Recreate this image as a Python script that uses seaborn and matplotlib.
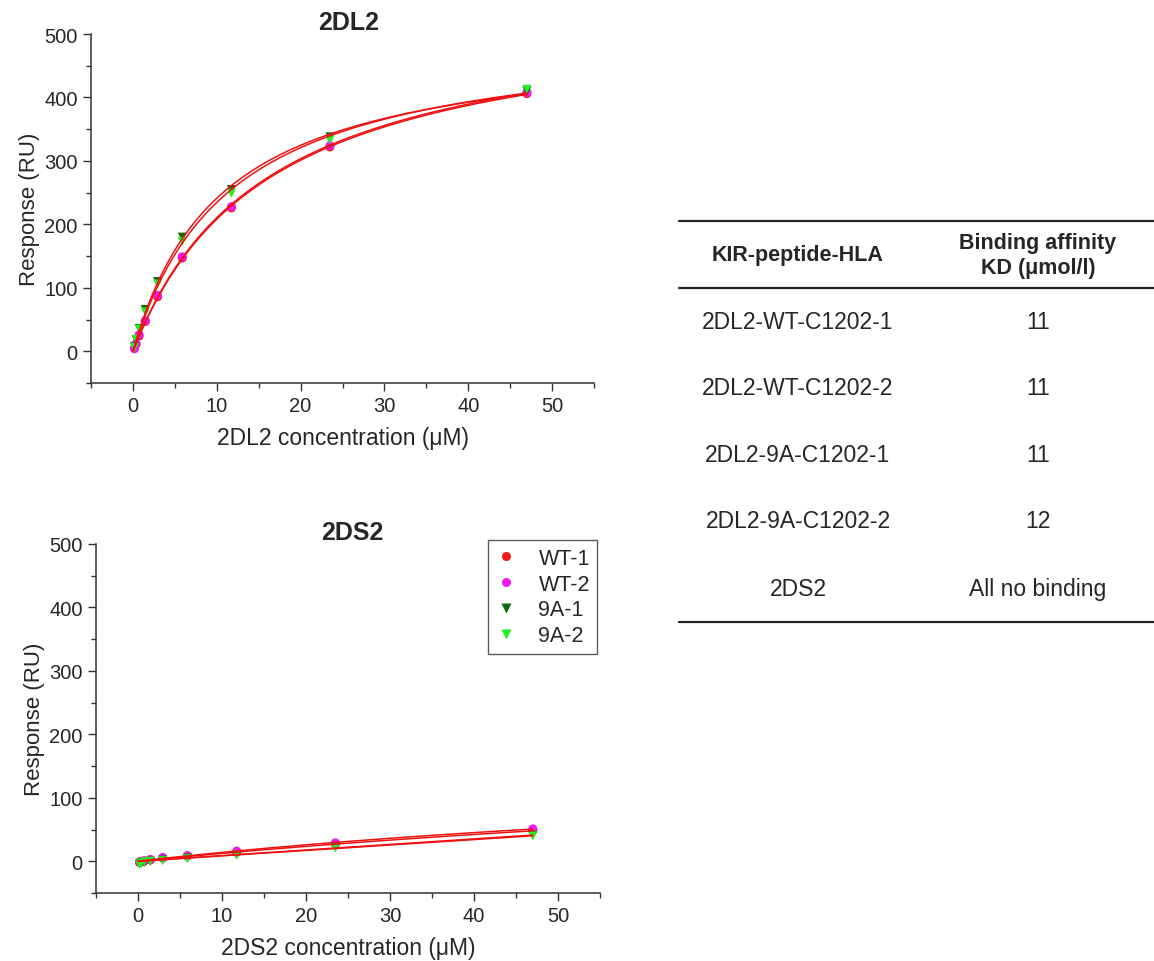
import numpy as np
import pandas as pd
import matplotlib
matplotlib.use("Agg")
import matplotlib.pyplot as plt
from matplotlib.ticker import MultipleLocator
import seaborn as sns

# Analyte concentrations (uM), two-fold dilution series
conc = [0.18, 0.37, 0.73, 1.47, 2.94, 5.88, 11.75, 23.5, 47.0]

# 2DL2 responses (RU)
dl2_wt1 = [5, 11, 24, 47, 86, 147, 226, 322, 406]
dl2_wt2 = [4, 12, 26, 48, 88, 149, 228, 324, 408]
dl2_9a1 = [7, 18, 36, 66, 110, 180, 255, 338, 410]
dl2_9a2 = [6, 19, 35, 62, 106, 173, 249, 333, 413]

# 2DS2 responses (RU)
ds2_wt1 = [-2, -1, 0, 2, 5, 8, 14, 27, 48]
ds2_wt2 = [-1, 0, 1, 3, 6, 9, 16, 29, 51]
ds2_9a1 = [-4, -3, -2, 0, 2, 5, 10, 22, 41]
ds2_9a2 = [-5, -3, -1, 0, 1, 4, 10, 21, 40]

series_names = ["WT-1", "WT-2", "9A-1", "9A-2"]
series_colors = ["#f01818", "#f018f0", "#0a6a0a", "#20f020"]
series_markers = ["o", "o", "v", "v"]

# Summary table
table_header = ["KIR-peptide-HLA", "Binding affinity\nKD (\u03bcmol/l)"]
table_complex = ["2DL2-WT-C1202-1", "2DL2-WT-C1202-2", "2DL2-9A-C1202-1",
                 "2DL2-9A-C1202-2", "2DS2"]
table_kd = ["11", "11", "11", "12", "All no binding"]

sns.set_style("ticks")
plt.rcParams["font.family"] = ["Liberation Sans", "DejaVu Sans"]


def langmuir_fit(x, y):
    """1:1 steady-state binding fit R = Rmax*C/(KD+C)."""
    x = np.asarray(x, float)
    y = np.asarray(y, float)
    best = None
    for kd in np.logspace(-1, 4, 3000):
        f = x / (kd + x)
        rmax = f.dot(y) / f.dot(f)
        sse = ((y - rmax * f) ** 2).sum()
        if best is None or sse < best[0]:
            best = (sse, kd, rmax)
    return best[1], best[2]


def panel(ax, data, title, xlabel, title_x, show_legend):
    frames = []
    for name, vals in zip(series_names, data):
        frames.append(pd.DataFrame({"conc": conc, "resp": vals, "series": name}))
    df = pd.concat(frames, ignore_index=True)

    # fitted binding curves
    xs = np.linspace(0, max(conc), 300)
    for name, vals in zip(series_names, data):
        kd, rmax = langmuir_fit(conc, vals)
        fit_df = pd.DataFrame({"conc": xs, "resp": rmax * xs / (kd + xs)})
        sns.lineplot(data=fit_df, x="conc", y="resp", ax=ax, color="#ee1111",
                     lw=1.1, zorder=3, legend=False)

    sns.scatterplot(data=df, x="conc", y="resp", hue="series", style="series",
                    hue_order=series_names, style_order=series_names,
                    palette=dict(zip(series_names, series_colors)),
                    markers=dict(zip(series_names, series_markers)),
                    s=42, edgecolor="none", ax=ax, zorder=2,
                    legend=show_legend)

    ax.set_xlim(-5, 55)
    ax.set_ylim(-50, 500)
    ax.xaxis.set_major_locator(MultipleLocator(10))
    ax.xaxis.set_minor_locator(MultipleLocator(5))
    ax.yaxis.set_major_locator(MultipleLocator(100))
    ax.yaxis.set_minor_locator(MultipleLocator(50))
    ax.tick_params(which="major", length=6, width=1, labelsize=14.5,
                   color="#333333", direction="out")
    ax.tick_params(which="minor", length=3.5, width=1, color="#333333",
                   direction="out")
    for side in ("top", "right"):
        ax.spines[side].set_visible(False)
    for side in ("left", "bottom"):
        ax.spines[side].set_color("#333333")
        ax.spines[side].set_linewidth(1.1)
    ax.set_xlabel(xlabel, fontsize=16.5, labelpad=8)
    ax.set_ylabel("Response (RU)", fontsize=16, labelpad=3)
    ax.text(title_x, 1.0, title, transform=ax.transAxes, ha="center",
            va="bottom", fontsize=18, fontweight="bold")
    if show_legend:
        leg = ax.legend(loc="upper right", bbox_to_anchor=(0.995, 1.01),
                        borderaxespad=0, fontsize=15.5, frameon=True,
                        fancybox=False, edgecolor="#333333",
                        handlelength=1.0, handletextpad=1.0,
                        labelspacing=0.22, borderpad=0.35)
        leg.get_frame().set_linewidth(1.0)


fig = plt.figure(figsize=(11.54, 9.62), dpi=100)
ax_top = fig.add_axes([0.0789, 0.6008, 0.4358, 0.3628])
ax_bot = fig.add_axes([0.0832, 0.0707, 0.4367, 0.3628])

panel(ax_top, [dl2_wt1, dl2_wt2, dl2_9a1, dl2_9a2], "2DL2",
      "2DL2 concentration (\u03bcM)", 0.513, False)
panel(ax_bot, [ds2_wt1, ds2_wt2, ds2_9a1, ds2_9a2], "2DS2",
      "2DS2 concentration (\u03bcM)", 0.508, "full")

# Table drawn in figure pixel coordinates
tab = fig.add_axes([0, 0, 1, 1], zorder=-1)
tab.set_xlim(0, 1154)
tab.set_ylim(962, 0)
tab.axis("off")
x0, x1 = 679, 1154
for yy in (222, 289, 623):
    tab.plot([x0, x1], [yy, yy], color="#222222", lw=1.6)
col1, col2 = 798, 1038
tab.text(col1, 256, table_header[0], ha="center", va="center",
         fontsize=15.5, fontweight="bold")
tab.text(col2, 256, table_header[1], ha="center", va="center",
         fontsize=15.5, fontweight="bold", linespacing=1.2)
row_y = [323, 389, 456, 522, 590]
for yy, name, kd in zip(row_y, table_complex, table_kd):
    tab.text(col1, yy, name, ha="center", va="center", fontsize=16.5)
    tab.text(col2, yy, kd, ha="center", va="center", fontsize=16.5)

fig.savefig("out.png", dpi=100)
